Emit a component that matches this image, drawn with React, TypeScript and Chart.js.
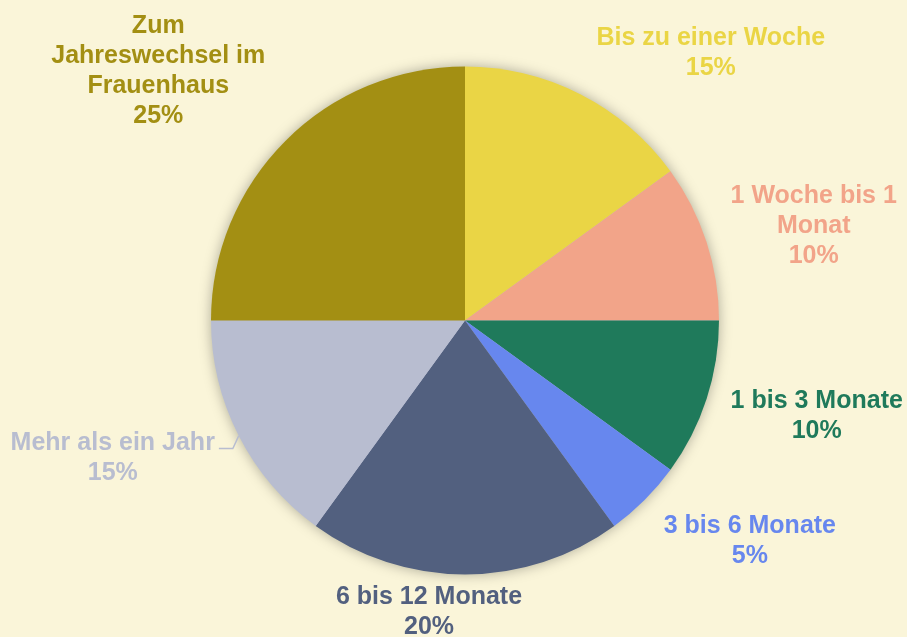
import React, { useEffect, useRef } from "react";
import { Chart, registerables } from "chart.js";

Chart.register(...registerables);

const categories: string[][] = [
  ["Bis zu einer Woche"],
  ["1 Woche bis 1", "Monat"],
  ["1 bis 3 Monate"],
  ["3 bis 6 Monate"],
  ["6 bis 12 Monate"],
  ["Mehr als ein Jahr"],
  ["Zum", "Jahreswechsel im", "Frauenhaus"],
];
const values: number[] = [15, 10, 10, 5, 20, 15, 25];
const colors: string[] = ["#EAD545", "#F2A489", "#1F7A5B", "#6787EE", "#52607F", "#B8BDD0", "#A38F13"];
const leaderLines: boolean[] = [false, false, false, false, false, true, false];

const BG = "#FAF5D9";
const FONT = "bold 25px 'Liberation Sans', Arial, sans-serif";
const LINE_H = 30;

const shadowPlugin = {
  id: "pieShadow",
  beforeDatasetsDraw(chart: any) {
    const meta = chart.getDatasetMeta(0);
    const arc = meta.data[0];
    if (!arc) return;
    const { x, y, outerRadius } = arc.getProps(["x", "y", "outerRadius"], true);
    const ctx = chart.ctx;
    ctx.save();
    ctx.shadowColor = "rgba(0,0,0,0.35)";
    ctx.shadowBlur = 14;
    ctx.fillStyle = "#B8BDD0";
    ctx.beginPath();
    ctx.arc(x, y, outerRadius - 1, 0, Math.PI * 2);
    ctx.fill();
    ctx.restore();
  },
};

const labelPlugin = {
  id: "outLabels",
  afterDatasetsDraw(chart: any, _args: any, opts: any) {
    const ctx = chart.ctx;
    const meta = chart.getDatasetMeta(0);
    const data = chart.data.datasets[0].data as number[];
    const total = data.reduce((a, b) => a + b, 0);
    const nudges = (opts && opts.nudges) || {};
    meta.data.forEach((arc: any, i: number) => {
      const { x, y, startAngle, endAngle, outerRadius } = arc.getProps(
        ["x", "y", "startAngle", "endAngle", "outerRadius"],
        true
      );
      const mid = (startAngle + endAngle) / 2;
      const dx = Math.cos(mid);
      const dy = Math.sin(mid);
      const d = outerRadius + 20;
      const ax = x + d * dx;
      const ay = y + d * dy;
      const lines = [...categories[i], Math.round((data[i] / total) * 100) + "%"];
      ctx.save();
      ctx.font = FONT;
      const w = Math.max(...lines.map((l) => ctx.measureText(l).width));
      const h = lines.length * LINE_H;
      let left: number;
      if (dx > 0.02) left = ax + 5;
      else if (dx < -0.02) left = ax - w - 6;
      else left = ax - w / 2;
      let cy = ay + (h / 2) * dy;
      const n = nudges[i] || [0, 0];
      left += n[0];
      cy += n[1];
      const cx = left + w / 2;
      ctx.fillStyle = colors[i];
      ctx.textAlign = "center";
      ctx.textBaseline = "middle";
      const top = cy - h / 2;
      lines.forEach((l, k) => {
        ctx.fillText(l, cx, top + LINE_H * (k + 0.5));
      });
      if (leaderLines[i]) {
        const ex = x + outerRadius * dx;
        const ey = y + outerRadius * dy;
        const firstW = ctx.measureText(lines[0]).width;
        const ly = top + LINE_H * 0.5 + 5;
        const textEdge = dx < 0 ? cx + firstW / 2 + 4 : cx - firstW / 2 - 4;
        const sgn = dx < 0 ? 1 : -1;
        ctx.strokeStyle = colors[i];
        ctx.lineWidth = 1.5;
        ctx.beginPath();
        ctx.moveTo(ex, ey);
        ctx.lineTo(textEdge + sgn * 14, ly);
        ctx.lineTo(textEdge, ly);
        ctx.stroke();
      }
      ctx.restore();
    });
  },
};

export default function App() {
  const ref = useRef<HTMLCanvasElement | null>(null);
  useEffect(() => {
    document.body.style.margin = "0";
    document.body.style.background = BG;
    if (!ref.current) return;
    const chart = new Chart(ref.current, {
      type: "pie",
      data: {
        labels: categories.map((c) => c.join(" ")),
        datasets: [
          {
            data: values,
            backgroundColor: colors,
            borderWidth: 0,
          },
        ],
      },
      options: {
        responsive: false,
        animation: false,
        layout: { padding: { top: 66.5, bottom: 62.5, left: 100, right: 77 } },
        plugins: {
          legend: { display: false },
          tooltip: { enabled: false },
          outLabels: { nudges: { 0: [2, 3], 1: [0, 4], 2: [0, 2], 3: [0, 6], 4: [-36, -12], 6: [0, -13] } },
        } as any,
      },
      plugins: [shadowPlugin, labelPlugin],
    });
    return () => chart.destroy();
  }, []);
  return (
    <div style={{ width: 907, height: 637, background: BG }}>
      <canvas ref={ref} width={907} height={637} />
    </div>
  );
}
